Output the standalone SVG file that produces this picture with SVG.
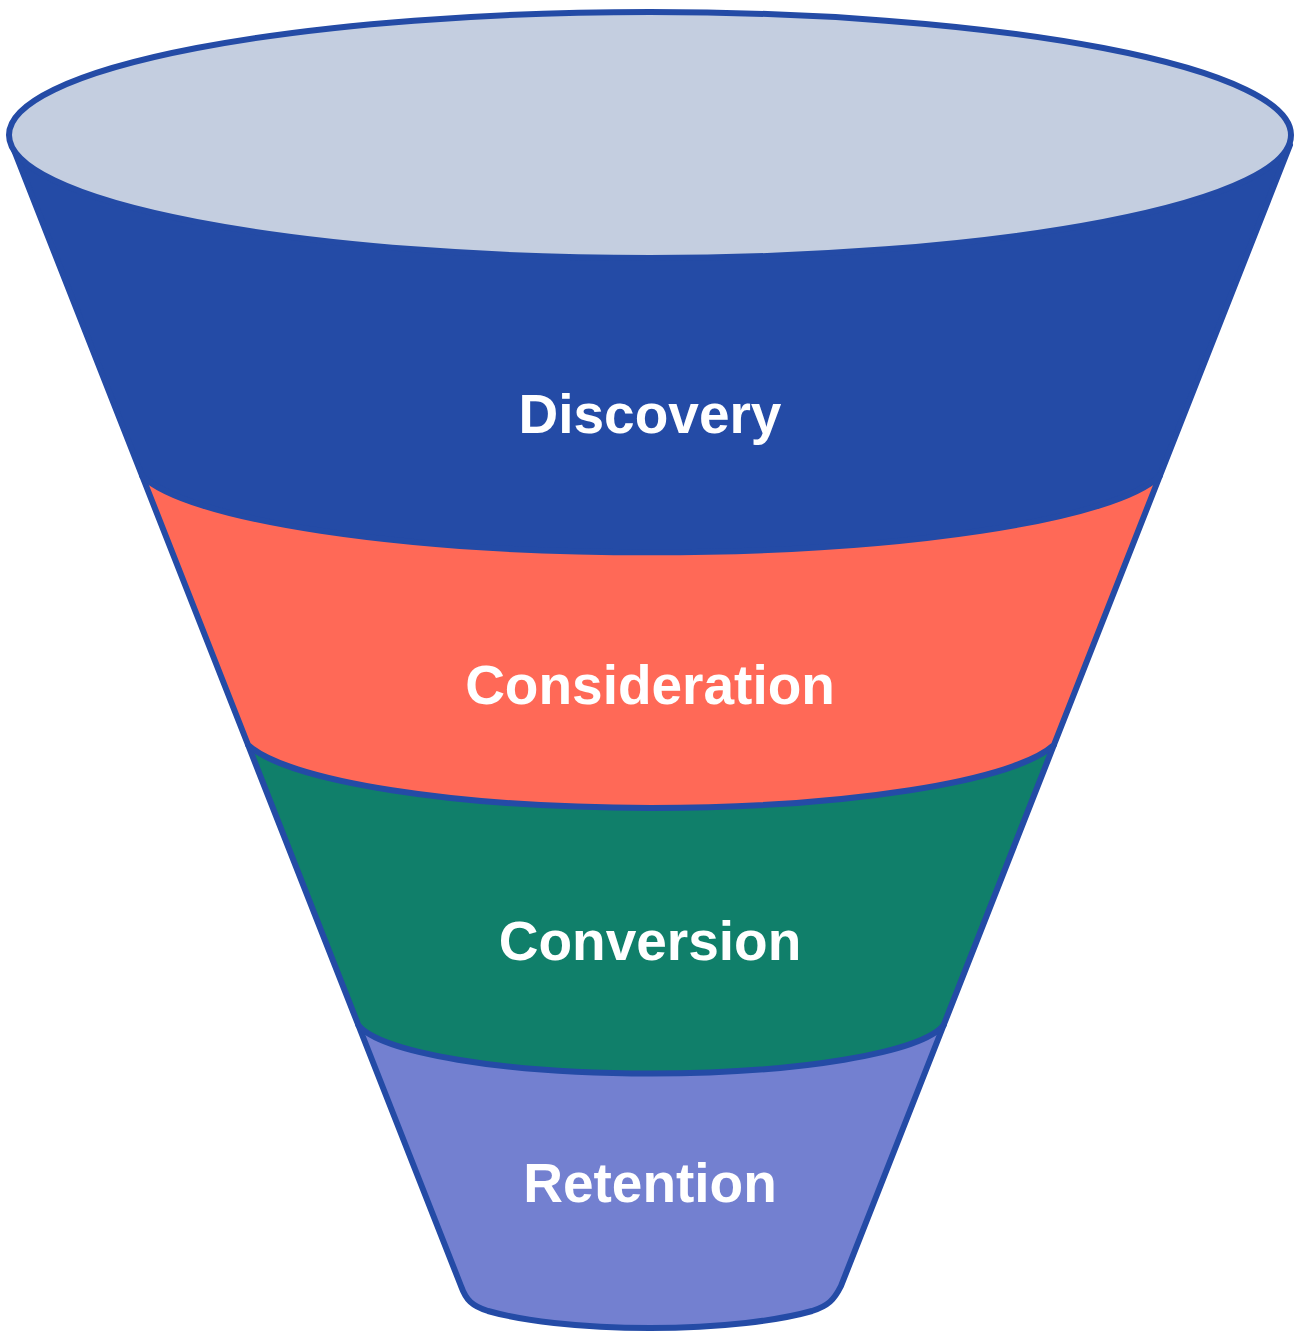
<svg xmlns="http://www.w3.org/2000/svg" width="1302" height="1333" viewBox="0 0 1302 1333">
  <style>
    .band { stroke: #244BA6; stroke-width: 6; stroke-linejoin: round; }
    .label { font-family: "Liberation Sans", Arial, sans-serif; font-weight: bold; font-size: 55px; fill: #FFFFFF; text-anchor: middle; }
  </style>
  <rect width="1302" height="1333" fill="#FFFFFF"/>
  <!-- stages are drawn bottom-up so each upper band overlaps the one below -->
  <g id="retention">
    <path class="band" fill="#7380D0" d="M 358.3 1025 L 461 1286 C 466 1300 472 1306 488 1311 A 200 41 0 0 0 812 1311 C 828 1306 834 1300 841 1286 L 943.7 1025 Z"/>
    <text class="label" x="650" y="1202">Retention</text>
  </g>
  <g id="conversion">
    <path class="band" fill="#107F6A" d="M 248.1 745 L 358.3 1025 A 296 57 0 0 0 943.7 1025 L 1053.9 745 Z"/>
    <text class="label" x="650" y="960">Conversion</text>
  </g>
  <g id="consideration">
    <path class="band" fill="#FF6957" d="M 142.2 476 L 248.1 745 A 412 79.5 0 0 0 1053.9 745 L 1159.8 476 Z"/>
    <text class="label" x="650" y="704">Consideration</text>
  </g>
  <g id="discovery">
    <path class="band" fill="#244BA6" d="M 12 145 L 142.2 476 A 518 94 0 0 0 1159.8 476 L 1290 145 Z"/>
    <text class="label" x="650" y="433">Discovery</text>
  </g>
  <!-- funnel mouth -->
  <g id="mouth">
    <ellipse class="band" cx="650" cy="135" rx="641" ry="123" fill="#C4CEE0"/>
  </g>
  <g id="connectors"/>
</svg>
